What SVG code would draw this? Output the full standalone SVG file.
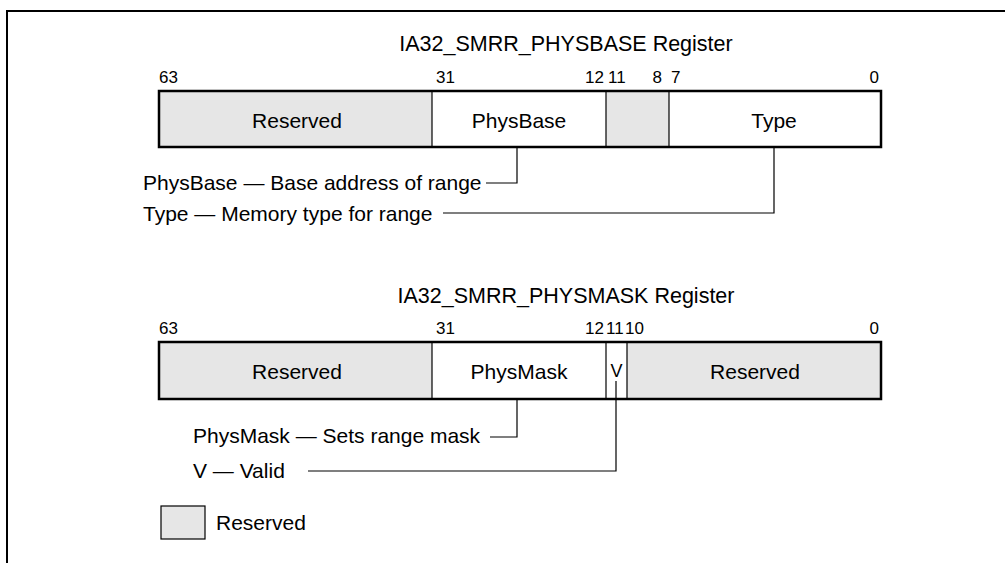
<svg xmlns="http://www.w3.org/2000/svg" width="1007" height="563" viewBox="0 0 1007 563">
<style>
text{font-family:"Liberation Sans",Arial,sans-serif;fill:#000}
.t{font-size:21px}
.ttl{font-size:21.5px;text-anchor:middle}
.n{font-size:17px}
.c{text-anchor:middle}
.e{text-anchor:end}
.box{fill:none;stroke:#000;stroke-width:2.5}
.div{stroke:#000;stroke-width:1.2;fill:none}
.res{fill:#e6e6e6}
.wh{fill:#fff}
.ld{stroke:#000;stroke-width:1.2;fill:none}
</style>
<path d="M7,563 V11 H1005" fill="none" stroke="#000" stroke-width="2"/>
<g id="physbase-register">
<text class="ttl" x="566" y="51">IA32_SMRR_PHYSBASE Register</text>
<text class="n" x="159" y="83">63</text>
<text class="n" x="436" y="83">31</text>
<text class="n e" x="604" y="83">12</text>
<text class="n" x="608" y="83">11</text>
<text class="n e" x="662" y="83">8</text>
<text class="n" x="671" y="83">7</text>
<text class="n e" x="879" y="83">0</text>
<rect class="res" x="159" y="91" width="273" height="56"/>
<rect class="wh" x="432" y="91" width="174" height="56"/>
<rect class="res" x="606" y="91" width="63" height="56"/>
<rect class="wh" x="669" y="91" width="212" height="56"/>
<line class="div" x1="432" y1="91" x2="432" y2="147"/>
<line class="div" x1="606" y1="91" x2="606" y2="147"/>
<line class="div" x1="669" y1="91" x2="669" y2="147"/>
<rect class="box" x="159" y="91" width="722" height="56"/>
<text class="t c" x="297" y="128">Reserved</text>
<text class="t c" x="519" y="128">PhysBase</text>
<text class="t c" x="774" y="128">Type</text>
</g>
<g id="physmask-register">
<text class="ttl" x="566" y="303">IA32_SMRR_PHYSMASK Register</text>
<text class="n" x="159" y="334">63</text>
<text class="n" x="436" y="334">31</text>
<text class="n e" x="604" y="334">12</text>
<text class="n" x="606" y="334">11</text>
<text class="n" x="625" y="334">10</text>
<text class="n e" x="879" y="334">0</text>
<rect class="res" x="159" y="342" width="273" height="57"/>
<rect class="wh" x="432" y="342" width="174" height="57"/>
<rect class="wh" x="606" y="342" width="21" height="57"/>
<rect class="res" x="627" y="342" width="254" height="57"/>
<line class="div" x1="432" y1="342" x2="432" y2="399"/>
<line class="div" x1="606" y1="342" x2="606" y2="399"/>
<line class="div" x1="627" y1="342" x2="627" y2="399"/>
<rect class="box" x="159" y="342" width="722" height="57"/>
<text class="t c" x="297" y="379">Reserved</text>
<text class="t c" x="519" y="379">PhysMask</text>
<text class="c" x="616.5" y="377" font-size="18">V</text>
<text class="t c" x="755" y="379">Reserved</text>
</g>
<g id="descriptions">
<text class="t" x="143" y="190">PhysBase — Base address of range</text>
<text class="t" x="143" y="221">Type — Memory type for range</text>
<text class="t" x="193" y="443">PhysMask — Sets range mask</text>
<text class="t" x="193" y="478">V — Valid</text>
</g>
<g id="connectors">
<path class="ld" d="M486,183 H517 V147"/>
<path class="ld" d="M443,213 H774 V147"/>
<path class="ld" d="M490,437 H517 V399"/>
<path class="ld" d="M308,471 H616 V381"/>
</g>
<g id="legend">
<rect x="161" y="506" width="44" height="33" fill="#e6e6e6" stroke="#000" stroke-width="1.2"/>
<text class="t" x="216" y="530">Reserved</text>
</g>
</svg>
